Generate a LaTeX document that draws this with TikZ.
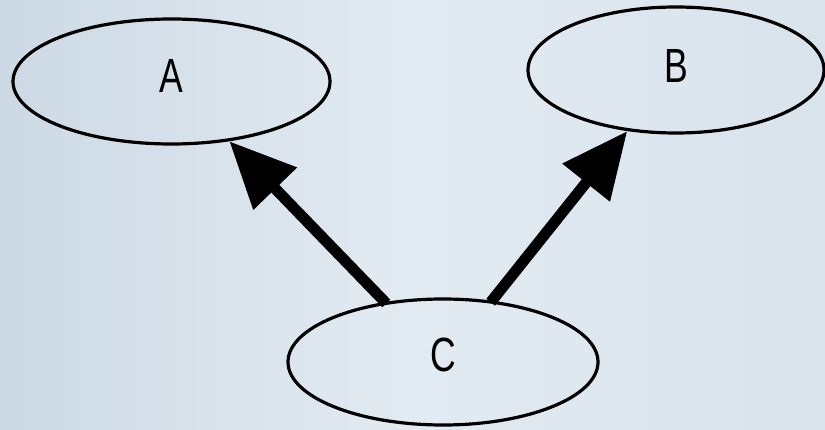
\documentclass[tikz,border=0pt]{standalone}
\usepackage{fontspec}
\newfontfamily\lblfont[FakeStretch=0.74]{Liberation Sans}
\usetikzlibrary{shapes.geometric,arrows.meta}
\begin{document}
\begin{tikzpicture}[x=1pt,y=-1pt,
  state/.style={ellipse,draw=black,line width=3.2pt,inner sep=0pt,
    font=\lblfont\fontsize{48}{48}\selectfont},
  link/.style={line width=11pt,-{Triangle[length=66pt,width=58pt]},shorten <=-2pt}]
  % backdrop
  \shade[left color={rgb,255:red,204;green,217;blue,228},
         right color={rgb,255:red,216;green,227;blue,236},
         middle color={rgb,255:red,227;green,235;blue,242}]
    (0,0) rectangle (825,430);
  \useasboundingbox (0,0) rectangle (825,430);
  % states
  \node[state,minimum width=317pt,minimum height=125pt] (A) at (171.5,81.5) {\raisebox{12pt}{A}};
  \node[state,minimum width=296pt,minimum height=126pt] (B) at (676,70) {\raisebox{8pt}{B}};
  \node[state,minimum width=310pt,minimum height=126pt] (C) at (443,362) {\raisebox{14pt}{C}};
  % influences
  \draw[link] (C) -- (A);
  \draw[link] (C) -- (B);
\end{tikzpicture}
\end{document}
